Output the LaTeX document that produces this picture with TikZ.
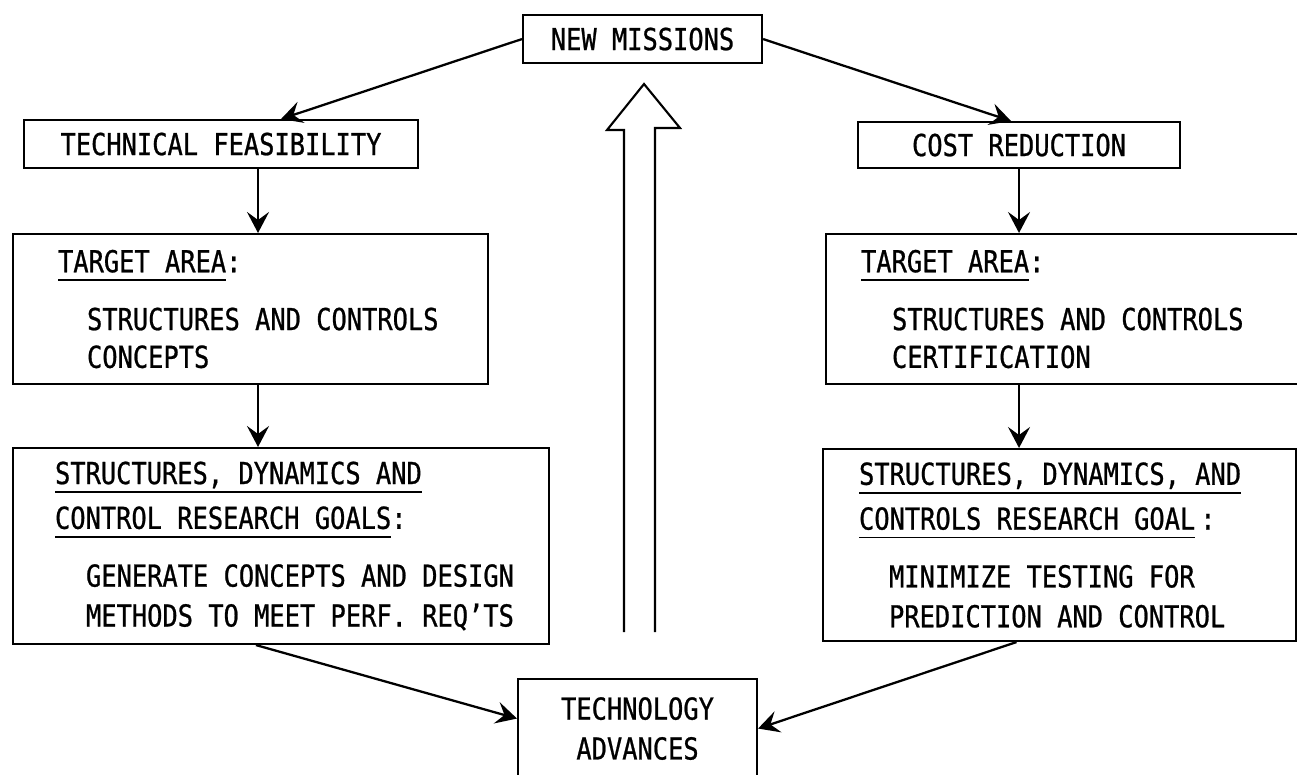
\documentclass[tikz,border=0pt]{standalone}
\usepackage{fontspec}
\usepackage{tikz}
\usetikzlibrary{arrows.meta,positioning,calc}
\newfontfamily\leroy{DejaVu Sans Mono}[FakeStretch=0.84,FakeBold=0.8]
\newcommand\ulbar[1]{\setbox0\hbox{#1}\rlap{\rule[-5pt]{\wd0}{1pt}}\box0}

\begin{document}
\begin{tikzpicture}[x=0.02cm, y=-0.02cm, line width=1.2pt,
    font={\leroy\fontsize{17.2}{21.5}\selectfont},
    every node/.style={align=left},
    frame/.style={draw, line width=1.2pt, inner sep=0pt, anchor=north west},
    txt/.style={anchor=west, inner sep=0pt},
    arr/.style={-{Stealth[length=4.2mm,width=4.4mm,inset=1.6mm]}, line width=1.3pt}]
        \useasboundingbox (0,0) rectangle (1297,774);

        % top row
        \node[frame, minimum width=4.78cm, minimum height=0.96cm, align=center]
          (nm) at (522,14) {NEW MISSIONS};
        \node[frame, minimum width=7.88cm, minimum height=0.96cm]
          (tfeas) at (23,119) {TECHNICAL FEASIBILITY};
        \node[frame, minimum width=6.44cm, minimum height=0.92cm]
          (cost) at (857,121) {COST REDUCTION};

        % target areas
        \node[frame, minimum width=9.5cm, minimum height=3.0cm] (tgtl) at (12,233) {};
        \node[txt] (tgtlt) at ($(tgtl.west)+(45,0)$)
          {\ulbar{TARGET AREA}:\\[11.4pt]\hspace*{0.58cm}STRUCTURES AND CONTROLS\\\hspace*{0.58cm}CONCEPTS};
        \node[frame, minimum width=9.54cm, minimum height=3.0cm] (tgtr) at (825,233) {};
        \node[txt] (tgtrt) at ($(tgtr.west)+(35,0)$)
          {\ulbar{TARGET AREA}:\\[11.4pt]\hspace*{0.62cm}STRUCTURES AND CONTROLS\\\hspace*{0.62cm}CERTIFICATION};

        % research goals
        \node[frame, minimum width=10.72cm, minimum height=3.92cm] (goall) at (12,447) {};
        \node[txt] (goallt) at ($(goall.west)+(42,0)$)
          {\ulbar{STRUCTURES, DYNAMICS AND}\\[4pt]\ulbar{CONTROL RESEARCH GOALS}:\\[11.4pt]%
           \hspace*{0.62cm}GENERATE CONCEPTS AND DESIGN\\[1.2pt]\hspace*{0.62cm}METHODS TO MEET PERF. REQ’TS};
        \node[frame, minimum width=9.46cm, minimum height=3.84cm] (goalr) at (822,448) {};
        \node[txt] (goalrt) at ($(goalr.west)+(36,0)$)
          {\ulbar{STRUCTURES, DYNAMICS, AND}\\[4pt]\ulbar{CONTROLS RESEARCH GOAL}\,:\\[11.4pt]%
           \hspace*{0.6cm}MINIMIZE TESTING FOR\\[1.2pt]\hspace*{0.6cm}PREDICTION AND CONTROL};

        % bottom
        \node[frame, minimum width=4.78cm, minimum height=1.98cm, align=center]
          (ta) at (517,678) {TECHNOLOGY\\[1.2pt]ADVANCES};

        \draw[arr] (nm.west) -- ($(tfeas.north)+(60,0)$);
        \draw[arr] (nm.east) -- ($(cost.north)+(-8,0)$);
        \draw[arr] ($(tfeas.south)+(37,0)$) coordinate (lx) -- (lx |- tgtl.north);
        \draw[arr] (lx |- tgtl.south) -- (lx |- goall.north);
        \draw[arr] (cost.south) -- (cost.south |- tgtr.north);
        \draw[arr] (cost.south |- tgtr.south) -- (cost.south |- goalr.north);
        \draw[arr] ($(goall.south)+(-25,0)$) -- ($(ta.west)+(0,-10)$);
        \draw[arr] ($(goalr.south)+(-43,0)$) -- (ta.east);

        % hollow arrow
        \draw[line join=miter] (624,632) -- (624,130) -- (607,130) -- (644,84)
          -- (680,128) -- (655,128) -- (655,632);
      \end{tikzpicture}
\end{document}
